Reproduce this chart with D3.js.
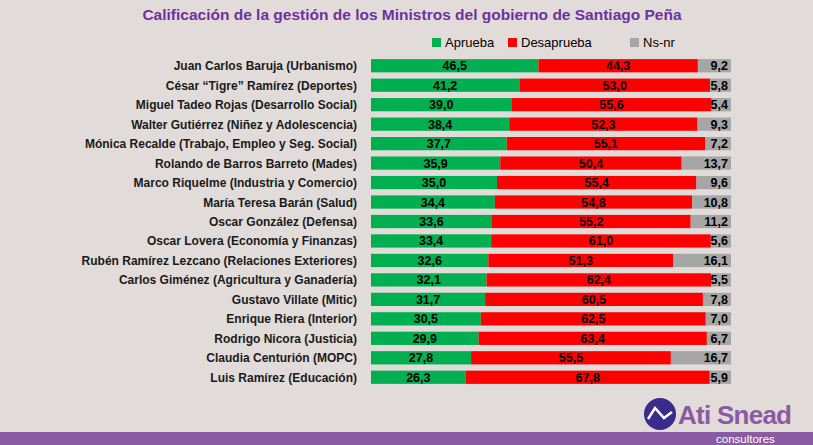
<!DOCTYPE html>
<html><head><meta charset="utf-8">
<script src="https://cdn.jsdelivr.net/npm/d3@7"></script>
<style>body{margin:0;background:#e1dcd9;}svg{display:block;font-family:"Liberation Sans",Arial,sans-serif;}</style>
</head><body>
<svg id="c" width="813" height="445"></svg>
<script>
const names=["Juan Carlos Baruja (Urbanismo)","César “Tigre” Ramírez (Deportes)","Miguel Tadeo Rojas (Desarrollo Social)","Walter Gutiérrez (Niñez y Adolescencia)","Mónica Recalde (Trabajo, Empleo y Seg. Social)","Rolando de Barros Barreto (Mades)","Marco Riquelme (Industria y Comercio)","María Teresa Barán (Salud)","Oscar González (Defensa)","Oscar Lovera (Economía y Finanzas)","Rubén Ramírez Lezcano (Relaciones Exteriores)","Carlos Giménez (Agricultura y Ganadería)","Gustavo Villate (Mitic)","Enrique Riera (Interior)","Rodrigo Nicora (Justicia)","Claudia Centurión (MOPC)","Luis Ramírez (Educación)"];
const aprueba=[46.5,41.2,39.0,38.4,37.7,35.9,35.0,34.4,33.6,33.4,32.6,32.1,31.7,30.5,29.9,27.8,26.3];
const desaprueba=[44.3,53.0,55.6,52.3,55.1,50.4,55.4,54.8,55.2,61.0,51.3,62.4,60.5,62.5,63.4,55.5,67.8];
const nsnr=[9.2,5.8,5.4,9.3,7.2,13.7,9.6,10.8,11.2,5.6,16.1,5.5,7.8,7.0,6.7,16.7,5.9];
const seriesNames=["Aprueba","Desaprueba","Ns-nr"];
const colors=["#00b050","#ff0000","#a6a6a6"];
const svg=d3.select("#c");
svg.append("text").attr("x",412).attr("y",20).attr("text-anchor","middle").attr("font-size",15.5).attr("font-weight","bold").attr("fill","#7030a0").text("Calificación de la gestión de los Ministros del gobierno de Santiago Peña");
const x=d3.scaleLinear().domain([0,100]).range([371,731]);
const y=d3.scaleBand().domain(names).range([56,387]).paddingInner(0.32).paddingOuter(0.16);
const data=names.map((n,i)=>({n,v:[aprueba[i],desaprueba[i],nsnr[i]]}));
const lx=[432,508,630];
seriesNames.forEach((s,i)=>{
 svg.append("rect").attr("x",lx[i]).attr("y",38).attr("width",9).attr("height",9).attr("fill",colors[i]);
 svg.append("text").attr("x",lx[i]+13).attr("y",47).attr("font-size",13).attr("fill","#000").text(s);
});
const g=svg.append("g");
data.forEach(d=>{
 let acc=0;
 d.v.forEach((v,i)=>{
  const x0=x(acc),x1=x(acc+v);acc+=v;
  g.append("rect").attr("x",x0).attr("y",y(d.n)).attr("width",x1-x0).attr("height",y.bandwidth()).attr("fill",colors[i]);
  const tx=i==2?x(100)-3:(x0+x1)/2;
  g.append("text").attr("x",tx).attr("y",y(d.n)+y.bandwidth()/2+4.5).attr("text-anchor",i==2?"end":"middle").attr("font-size",12.5).attr("font-weight","bold").attr("fill","#000").text(v.toFixed(1).replace(".",","));
 });
 g.append("text").attr("x",357).attr("y",y(d.n)+y.bandwidth()/2+4.5).attr("text-anchor","end").attr("font-size",12).attr("font-weight","bold").attr("fill","#1a1a1a").text(d.n);
});
svg.append("rect").attr("x",0).attr("y",432).attr("width",813).attr("height",13).attr("fill","#8a5aa3");
svg.append("circle").attr("cx",660).attr("cy",414).attr("r",16).attr("fill","#3a2c8c");
svg.append("polyline").attr("points","648,419 655,408 664,418 672,412").attr("fill","none").attr("stroke","#fff").attr("stroke-width",2.5);
svg.append("text").attr("x",678).attr("y",424).attr("font-size",26).attr("font-weight","bold").attr("fill","#8a5aa3").attr("textLength",114).text("Ati Snead");
svg.append("text").attr("x",716).attr("y",443).attr("font-size",11.5).attr("fill","#fff").text("consultores");
</script>
</body></html>
